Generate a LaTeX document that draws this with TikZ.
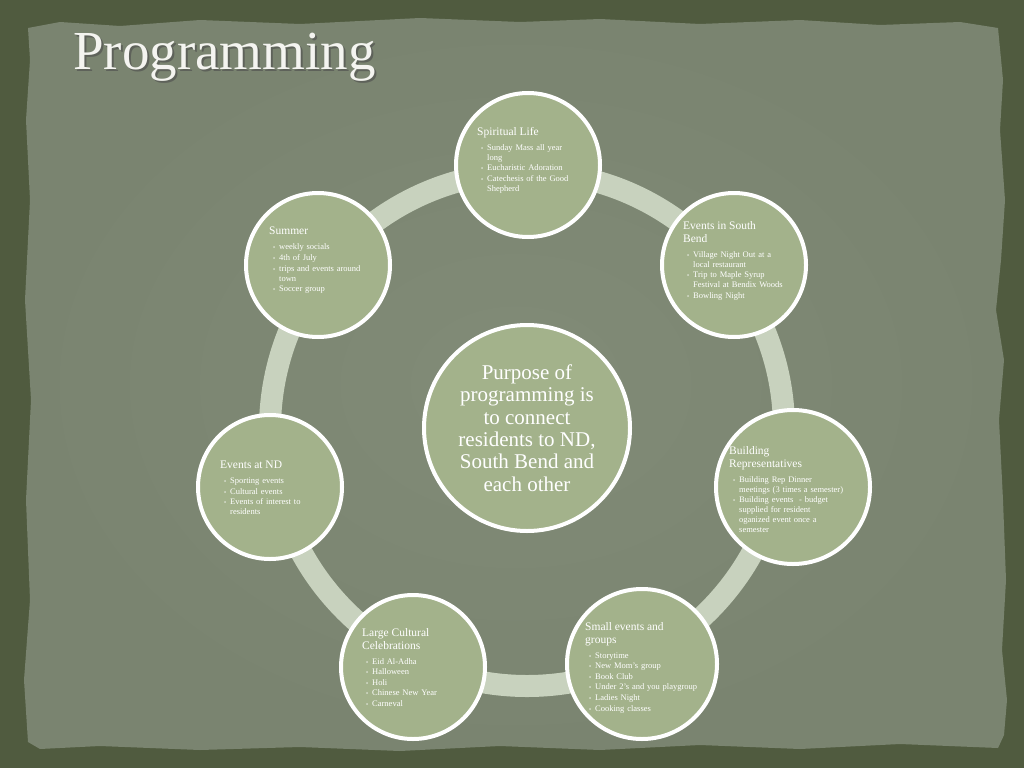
\documentclass[tikz,border=0pt]{standalone}
\usepackage{fontspec}
\setmainfont{Liberation Serif}
\usetikzlibrary{shadings}
\definecolor{outercol}{HTML}{505B3F}
\definecolor{panelcol}{HTML}{7A8470}
\definecolor{panelin}{HTML}{818B77}
\definecolor{circfill}{HTML}{A3B28B}
\definecolor{ringcol}{HTML}{C8D2BE}
\definecolor{titlecol}{HTML}{F4F4F0}
\newcommand{\itm}[1]{\par\noindent\hangindent=10pt\hangafter=1\hspace*{4pt}\makebox[6pt][l]{\fontsize{6}{6}\selectfont\textbullet}#1\par\vspace{0.6pt}}
\newcommand{\hd}[1]{{\fontsize{11.5}{13}\selectfont #1\par}\vspace{5pt}}
\tikzset{
  satellite/.style={circle, fill=circfill, draw=white, line width=4pt, minimum size=144pt, inner sep=0pt},
  hub/.style={circle, fill=circfill, draw=white, line width=4pt, minimum size=206pt, inner sep=0pt, align=center, text=white, font=\fontsize{21}{22.3}\selectfont},
  listtext/.style={anchor=north west, inner sep=0pt, text width=140pt, align=left, text=white, font=\fontsize{8.5}{10}\selectfont},
}
\begin{document}
\begin{tikzpicture}[x=1pt,y=-1pt]
\useasboundingbox (0,0) rectangle (1024,768);
% background
\fill[outercol] (0,0) rectangle (1024,768);
\path[inner color=panelin, outer color=panelcol]
 (28,28) -- (60,22) -- (120,26) -- (200,20) -- (300,24) -- (420,18) -- (520,22) -- (600,19) -- (700,24) -- (800,20) -- (880,25) -- (960,22) -- (998,28) -- (1003,80) -- (1000,130) -- (1005,200) -- (1001,260) -- (996,310) -- (1004,360) -- (999,420) -- (1003,500) -- (1006,580) -- (1002,650) -- (1007,700) -- (1004,735) -- (998,748) -- (900,744) -- (800,749) -- (700,745) -- (600,750) -- (500,746) -- (400,751) -- (300,747) -- (200,750) -- (100,746) -- (40,749) -- (28,742) -- (24,680) -- (30,600) -- (26,500) -- (31,400) -- (25,300) -- (30,200) -- (26,120) -- (30,60) -- cycle;
% title
\node[anchor=base west, inner sep=0pt, text=black!70, opacity=0.6, font=\fontsize{55}{55}\selectfont] (titleshadow) at (75,71) {Programming};
\node[anchor=base west, inner sep=0pt, text=titlecol, font=\fontsize{55}{55}\selectfont] (title) at (73,69) {Programming};
% ring
\coordinate (ringc) at (527,429);
\draw[ringcol, line width=22pt] (ringc) circle[radius=257pt];
% circles
\node[satellite] (c1) at (528,165) {};
\node[satellite] (c2) at (734,265) {};
\node[satellite, minimum size=154pt] (c3) at (793,487) {};
\node[satellite, minimum size=150pt] (c4) at (642,664) {};
\node[satellite] (c5) at (413,667) {};
\node[satellite] (c6) at (270,487) {};
\node[satellite] (c7) at (318,265) {};
\node[hub] (hub) at (527,428) {Purpose of\\programming is\\to connect\\residents to ND,\\South Bend and\\each other};
% texts
\node[listtext] (t1) at (477,127) {\hd{Spiritual Life}\itm{Sunday Mass all year\newline long}\itm{Eucharistic Adoration}\itm{Catechesis of the Good\newline Shepherd}};
\node[listtext] (t2) at (683,221) {\hd{Events in South\\Bend}\itm{Village Night Out at a\newline local restaurant}\itm{Trip to Maple Syrup\newline Festival at Bendix Woods}\itm{Bowling Night}};
\node[listtext] (t3) at (729,446) {\hd{Building\\Representatives}\itm{Building Rep Dinner\newline meetings (3 times a semester)}\itm{Building events~ - budget\newline supplied for resident\newline oganized event once a\newline semester}};
\node[listtext] (t4) at (585,622) {\hd{Small events and\\groups}\itm{Storytime}\itm{New Mom's group}\itm{Book Club}\itm{Under 2's and you playgroup}\itm{Ladies Night}\itm{Cooking classes}};
\node[listtext] (t5) at (362,628) {\hd{Large Cultural\\Celebrations}\itm{Eid Al-Adha}\itm{Halloween}\itm{Holi}\itm{Chinese New Year}\itm{Carneval}};
\node[listtext] (t6) at (220,461) {\hd{Events at ND}\itm{Sporting events}\itm{Cultural events}\itm{Events of interest to\newline residents}};
\node[listtext] (t7) at (269,227) {\hd{Summer}\itm{weekly socials}\itm{4th of July}\itm{trips and events around\newline town}\itm{Soccer group}};
\end{tikzpicture}
\end{document}
